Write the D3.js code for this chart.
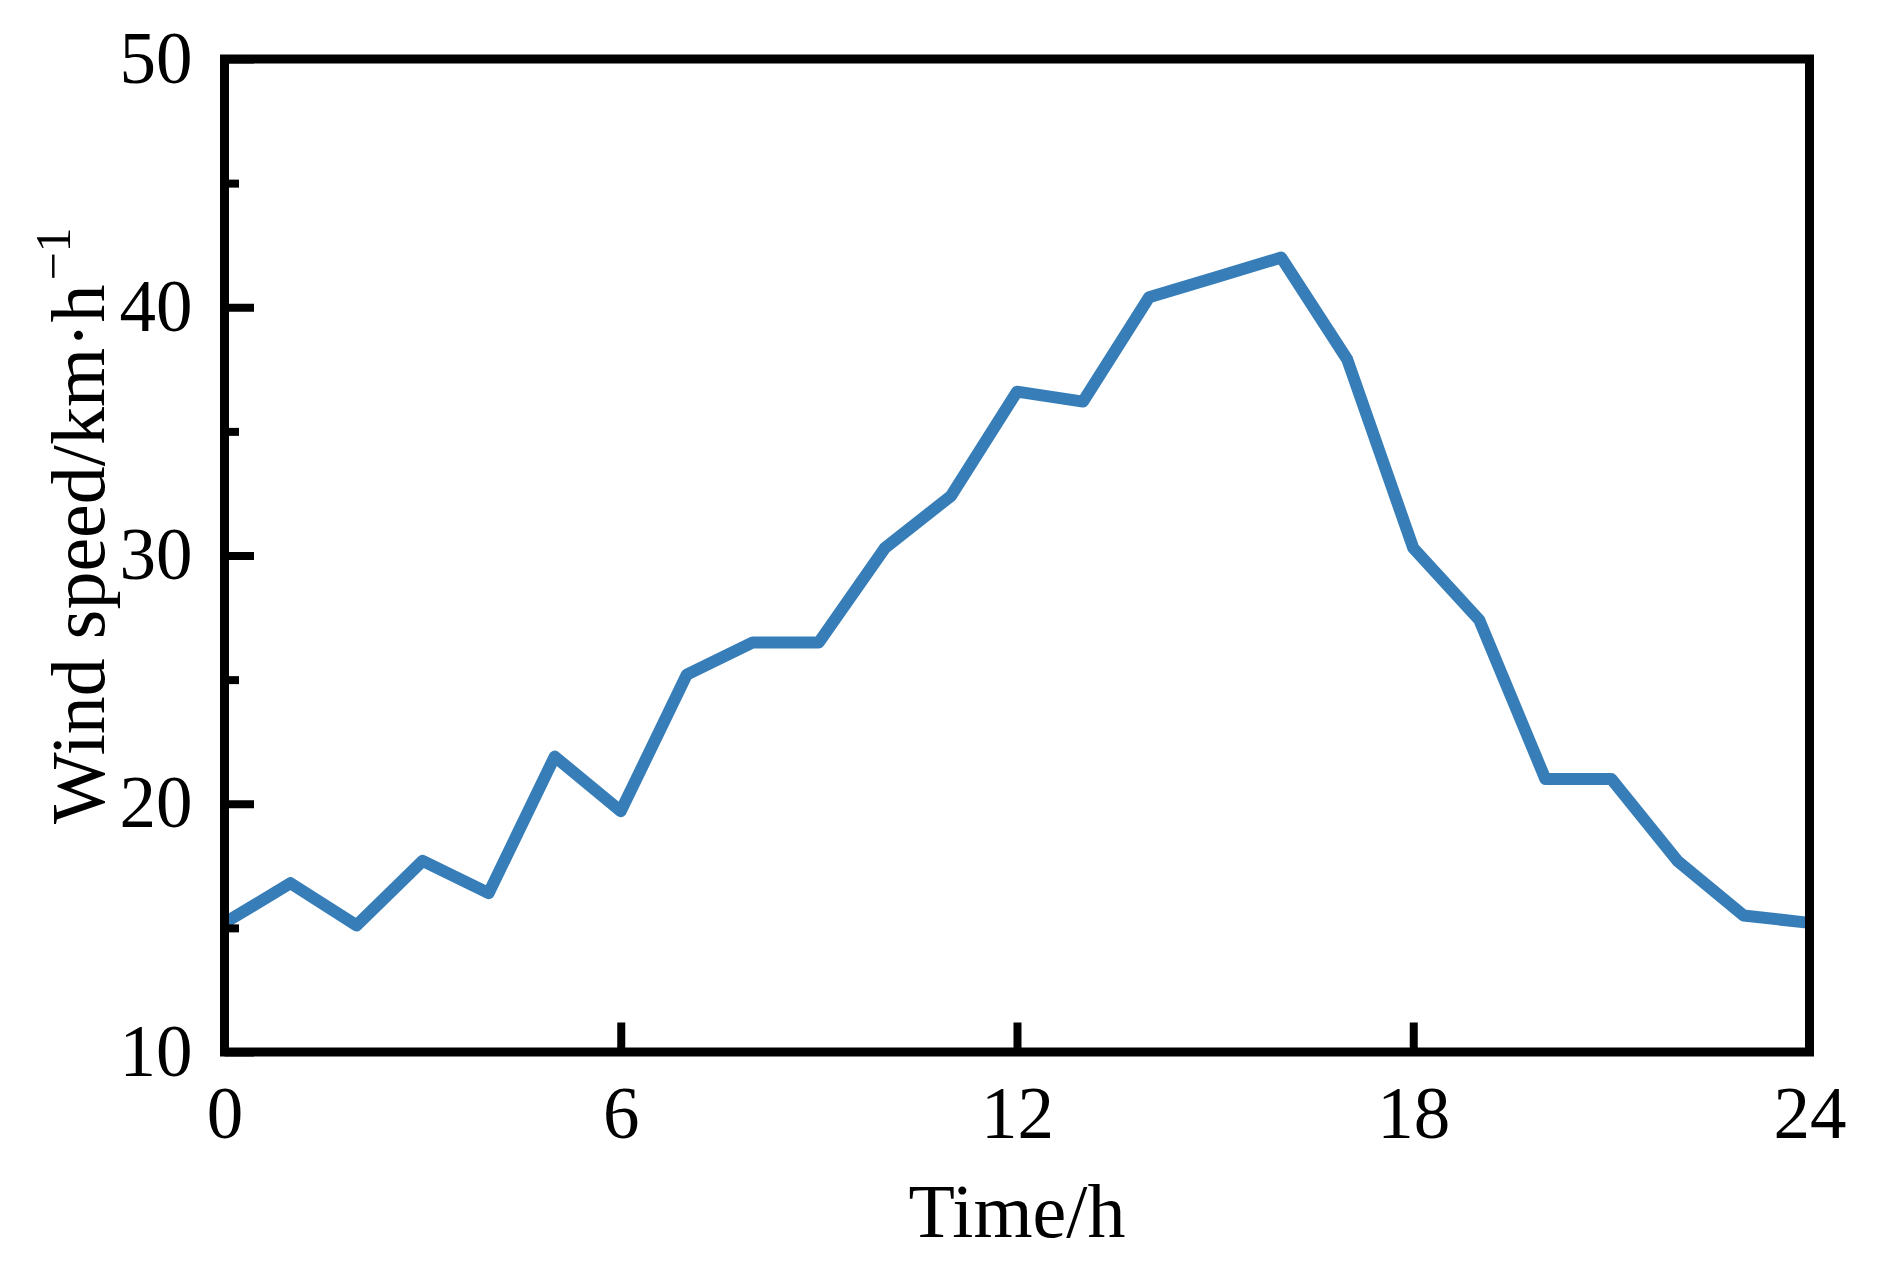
<!DOCTYPE html>
<html>
<head>
<meta charset="utf-8">
<script src="https://cdn.jsdelivr.net/npm/d3@7"></script>
<style>
  html, body { margin: 0; padding: 0; background: #fff; }
  svg { display: block; }
  text { font-family: "Liberation Serif", "Times New Roman", serif; fill: #000; }
</style>
</head>
<body>
<svg id="chart" width="1882" height="1288"></svg>
<script>
// ---- data ----
const hours = [0,1,2,3,4,5,6,7,8,9,10,11,12,13,14,15,16,17,18,19,20,21,22,23,24];
const windSpeed = [15.2,16.8,15.1,17.7,16.4,21.9,19.7,25.2,26.5,26.5,30.3,32.4,36.6,36.2,40.4,41.2,42.0,37.9,30.3,27.4,21.0,21.0,17.7,15.5,15.2];
const xTicks = [0,6,12,18,24];
const yTicks = [10,20,30,40,50];
const yMinorTicks = [15,25,35,45];
const xLabel = "Time/h";
const yLabelMain = "Wind speed/km·h";
const yLabelSup = "−1";

// ---- layout ----
const L = 224.5, R = 1809.5, T = 59, B = 1052;
const svg = d3.select("#chart");

const x = d3.scaleLinear().domain([0, 24]).range([L, R]);
const y = d3.scaleLinear().domain([10, 50]).range([B, T]);

// line
const line = d3.line().x((d, i) => x(hours[i])).y(d => y(d));
svg.append("path")
  .datum(windSpeed)
  .attr("d", line)
  .attr("fill", "none")
  .attr("stroke", "#377eb8")
  .attr("stroke-width", 12)
  .attr("stroke-linejoin", "round");

// y axis major ticks
const yAxis = d3.axisLeft(y).tickValues(yTicks).tickSize(-29.5).tickPadding(0).tickFormat(d3.format("d"));
const gy = svg.append("g").attr("transform", `translate(${L},0)`).call(yAxis);
gy.select(".domain").remove();
gy.selectAll(".tick line").attr("stroke", "#000").attr("stroke-width", 8);
gy.selectAll(".tick text")
  .attr("x", -32).attr("dy", null).attr("y", 23)
  .attr("text-anchor", "end")
  .style("font-family", '"Liberation Serif", serif')
  .style("font-size", "73px").attr("fill", "#000");

// y axis minor ticks
const yAxisMinor = d3.axisLeft(y).tickValues(yMinorTicks).tickSize(-14.5).tickFormat("");
const gym = svg.append("g").attr("transform", `translate(${L},0)`).call(yAxisMinor);
gym.select(".domain").remove();
gym.selectAll(".tick line").attr("stroke", "#000").attr("stroke-width", 8);

// x axis ticks
const xAxis = d3.axisBottom(x).tickValues(xTicks).tickSize(-29.5).tickFormat(d3.format("d"));
const gx = svg.append("g").attr("transform", `translate(0,${B})`).call(xAxis);
gx.select(".domain").remove();
gx.selectAll(".tick line").attr("stroke", "#000").attr("stroke-width", 8);
gx.selectAll(".tick text")
  .attr("y", 86).attr("dy", null)
  .attr("text-anchor", "middle")
  .style("font-family", '"Liberation Serif", serif')
  .style("font-size", "73px").attr("fill", "#000");

// frame
svg.append("rect")
  .attr("x", L).attr("y", T)
  .attr("width", R - L).attr("height", B - T)
  .attr("fill", "none").attr("stroke", "#000").attr("stroke-width", 9);

// axis labels
svg.append("text")
  .attr("x", (L + R) / 2).attr("y", 1237)
  .attr("text-anchor", "middle")
  .style("font-size", "76px")
  .text(xLabel);

const yl = svg.append("text")
  .attr("transform", "translate(104,824) rotate(-90)")
  .attr("text-anchor", "start")
  .style("font-size", "76px");
yl.append("tspan").text(yLabelMain);
yl.append("tspan").attr("dx", 4).attr("dy", -34).style("font-size", "50px").text(yLabelSup);
</script>
</body>
</html>
